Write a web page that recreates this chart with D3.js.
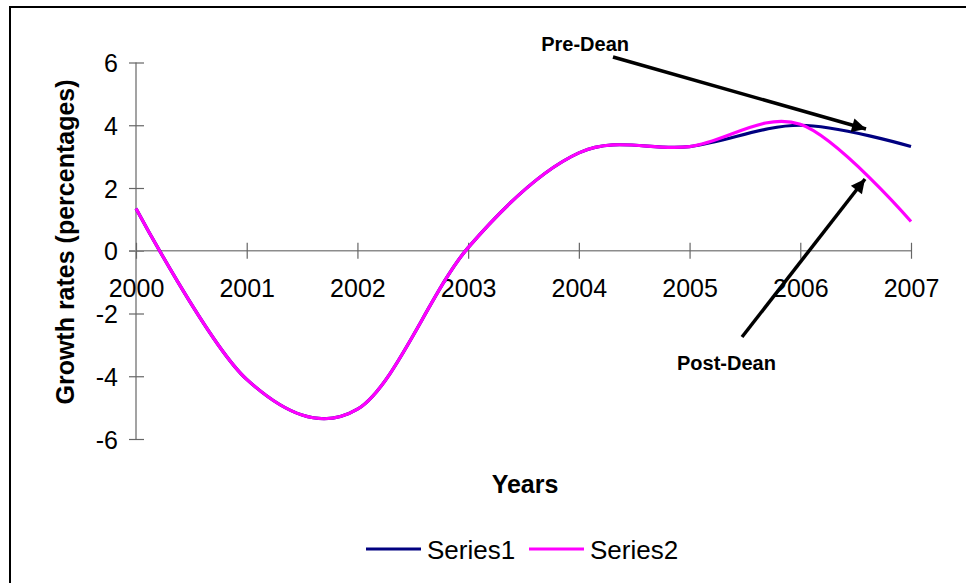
<!DOCTYPE html>
<html>
<head>
<meta charset="utf-8">
<script src="https://cdn.jsdelivr.net/npm/d3@7"></script>
<style>
  html, body { margin: 0; padding: 0; background: #fff; }
  svg { display: block; font-family: "Liberation Sans", Arial, sans-serif; }
</style>
</head>
<body>
<svg id="chart" width="966" height="583"></svg>
<script>
// Annual growth rates, 2000-2007
const years = [2000, 2001, 2002, 2003, 2004, 2005, 2006, 2007];
const series1 = [1.35, -4.1, -5.05, 0.1, 3.12, 3.32, 4.0, 3.32];
const series2 = [1.35, -4.1, -5.05, 0.1, 3.12, 3.32, 4.03, 0.93];
const seriesNames = ["Series1", "Series2"];
const seriesColors = ["#000080", "#ff00ff"];
const yTicks = [-6, -4, -2, 0, 2, 4, 6];

const svg = d3.select("#chart");

// Chart frame
svg.append("rect")
  .attr("x", 10).attr("y", 7)
  .attr("width", 1100).attr("height", 1100)
  .attr("fill", "#fff").attr("stroke", "#000").attr("stroke-width", 2);

const x = d3.scaleLinear().domain([2000, 2007]).range([136, 911]);
const y = d3.scaleLinear().domain([-6, 6]).range([439, 62.5]);

// Y axis
const yAxis = svg.append("g")
  .attr("transform", `translate(${x(2000)},0)`)
  .call(d3.axisLeft(y).tickValues(yTicks).tickSize(7).tickSizeOuter(0).tickFormat(d3.format("d")));
yAxis.select(".domain").attr("stroke", "#666").attr("stroke-width", 1.2)
  .attr("d", `M0,${y(6)}V${y(-6)}`);
yAxis.selectAll(".tick line").attr("x1", -7).attr("x2", 8).attr("stroke", "#666").attr("stroke-width", 1.2);
yAxis.selectAll(".tick text")
  .attr("x", -18).attr("dy", "0.36em")
  .attr("font-size", 25).attr("fill", "#000")
  .attr("font-family", "'Liberation Sans', Arial, sans-serif")
  .text(d => d < 0 ? "-" + Math.abs(d) : d);

// X axis at zero
const xAxis = svg.append("g")
  .attr("transform", `translate(0,${y(0)})`)
  .call(d3.axisBottom(x).tickValues(years).tickSize(8).tickSizeOuter(0).tickFormat(d3.format("d")));
xAxis.select(".domain").attr("stroke", "#8c8c8c").attr("stroke-width", 1.5)
  .attr("d", `M${x(2000) - 7},0H${x(2007)}`);
xAxis.selectAll(".tick line").attr("y1", -8).attr("y2", 8).attr("stroke", "#666").attr("stroke-width", 1.2);
xAxis.selectAll(".tick text")
  .attr("y", 46).attr("dy", 0)
  .attr("font-size", 25).attr("fill", "#000")
  .attr("font-family", "'Liberation Sans', Arial, sans-serif");

// Smoothed series lines
const line = d3.line()
  .x((d, i) => x(years[i]))
  .y(d => y(d))
  .curve(d3.curveCatmullRom.alpha(0));

[series1, series2].forEach((s, k) => {
  svg.append("path")
    .datum(s)
    .attr("d", line)
    .attr("fill", "none")
    .attr("stroke", seriesColors[k])
    .attr("stroke-width", 3.2)
    .attr("stroke-linejoin", "round");
});

// Axis titles
svg.append("text")
  .attr("transform", "translate(74,242) rotate(-90)")
  .attr("text-anchor", "middle")
  .attr("font-size", 25).attr("font-weight", "bold")
  .text("Growth rates (percentages)");

svg.append("text")
  .attr("x", 525).attr("y", 493)
  .attr("text-anchor", "middle")
  .attr("font-size", 25).attr("font-weight", "bold")
  .text("Years");

// Legend
const legendX = [366, 529];
seriesNames.forEach((name, k) => {
  svg.append("line")
    .attr("x1", legendX[k]).attr("x2", legendX[k] + 55)
    .attr("y1", 549).attr("y2", 549)
    .attr("stroke", seriesColors[k]).attr("stroke-width", 3);
  svg.append("text")
    .attr("x", legendX[k] + 61).attr("y", 559)
    .attr("font-size", 26)
    .text(name);
});

// Annotation arrows
const defs = svg.append("defs");
defs.append("marker")
  .attr("id", "head")
  .attr("viewBox", "0 0 10 10")
  .attr("refX", 10).attr("refY", 5)
  .attr("markerUnits", "userSpaceOnUse")
  .attr("markerWidth", 17).attr("markerHeight", 14)
  .attr("orient", "auto")
  .append("path").attr("d", "M0,0L10,5L0,10Z").attr("fill", "#000");

const arrows = [
  { from: [613, 57], to: [866, 129] },
  { from: [742, 337], to: [865, 179] }
];
arrows.forEach(a => {
  svg.append("line")
    .attr("x1", a.from[0]).attr("y1", a.from[1])
    .attr("x2", a.to[0]).attr("y2", a.to[1])
    .attr("stroke", "#000").attr("stroke-width", 3.5)
    .attr("marker-end", "url(#head)");
});

svg.append("text")
  .attr("x", 629).attr("y", 51)
  .attr("text-anchor", "end")
  .attr("font-size", 20).attr("font-weight", "bold")
  .text("Pre-Dean");

svg.append("text")
  .attr("x", 677).attr("y", 370)
  .attr("font-size", 20).attr("font-weight", "bold")
  .text("Post-Dean");
</script>
</body>
</html>
